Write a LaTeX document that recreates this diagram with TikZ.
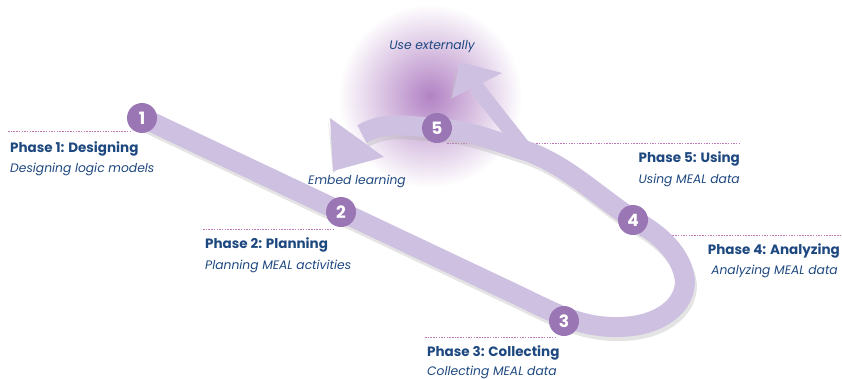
\documentclass[tikz,border=0pt]{standalone}
\usepackage{fontspec}
\setmainfont{Poppins}
\definecolor{band}{RGB}{206,192,224}
\definecolor{dot}{RGB}{154,118,180}
\definecolor{txt}{RGB}{30,72,128}
\definecolor{rule}{RGB}{190,120,185}
\definecolor{glow}{RGB}{178,130,196}
\newcommand{\bandroute}{(143,118) -- (515,294) .. controls (555,313) and (580,328) .. (620,327)
  .. controls (665,326) and (690,300) .. (684,275) .. controls (679,253) and (662,236) .. (636,221)
  .. controls (600,199) and (565,162) .. (520,149) .. controls (490,139) and (462,129) .. (437,128)
  .. controls (405,126) and (385,121) .. (362,134)}
\begin{document}
\begin{tikzpicture}[x=1pt,y=-1pt,
    phase/.style={font=\bfseries\fontsize{13.5}{15}\selectfont, text=txt, inner sep=0pt},
    sub/.style={font=\itshape\fontsize{12.3}{14}\selectfont, text=txt, inner sep=0pt},
    num/.style={circle, fill=dot, minimum size=30pt, inner sep=0pt, text=white, font=\bfseries\fontsize{17}{17}\selectfont},
    rule/.style={draw=rule, dash pattern=on 1.5pt off 1.2pt, line width=0.7pt},
    band/.style={draw=band, line width=20pt},
    head/.style={fill=band},
    bandshadow/.style={draw=black!30, line width=20pt, opacity=0.35}]
  \useasboundingbox (0,0) rectangle (842,378);
  % glow behind phase 5
  \shade[inner color=glow, outer color=white] (430,96) circle (92pt);
  % dotted rules
  \draw[rule] (8,131) -- (132,131);
  \draw[rule] (203,229) -- (335,229);
  \draw[rule] (425,337) -- (555,337);
  \draw[rule] (640,235) -- (842,235);
  \draw[rule] (447,143) -- (740,143);
  % the band
  \draw[bandshadow, shift={(2,4)}] \bandroute;
  \draw[band] \bandroute;
  \fill[black!25, opacity=0.4] (328,120) -- (333,173) -- (336,171) -- cycle;
  \fill[head] (330,118) -- (384,157) -- (333,171) -- cycle;
  \draw[band, line width=15pt] (528,153) -- (476,87);
  \fill[black!25, opacity=0.4] (457,64) -- (450,99) -- (454,98) -- cycle;
  \fill[head] (460,62) -- (502,73) -- (452,98) -- cycle;
  % phase circles
  \node[num] (c1) at (142,118) {1};
  \node[num] (c2) at (341,212) {2};
  \node[num] (c3) at (564,321) {3};
  \node[num] (c4) at (633,220) {4};
  \node[num] (c5) at (437,128) {5};
  % labels
  \node[phase, anchor=west] (t1) at (10,149) {Phase 1: Designing};
  \node[sub, anchor=west] (s1) at (10,169) {Designing logic models};
  \node[phase, anchor=west] (t2) at (205,245) {Phase 2: Planning};
  \node[sub, anchor=west] (s2) at (205,266) {Planning MEAL activities};
  \node[phase, anchor=west] (t3) at (427,353) {Phase 3: Collecting};
  \node[sub, anchor=west] (s3) at (427,372) {Collecting MEAL data};
  \node[phase, anchor=east] (t4) at (840,251) {Phase 4: Analyzing};
  \node[sub, anchor=east] (s4) at (838,271) {Analyzing MEAL data};
  \node[phase, anchor=east] (t5) at (740,159) {Phase 5: Using};
  \node[sub, anchor=east] (s5) at (740,180) {Using MEAL data};
  \node[sub] (emb) at (357,181) {Embed learning};
  \node[sub] (ext) at (432,47) {Use externally};
\end{tikzpicture}
\end{document}
